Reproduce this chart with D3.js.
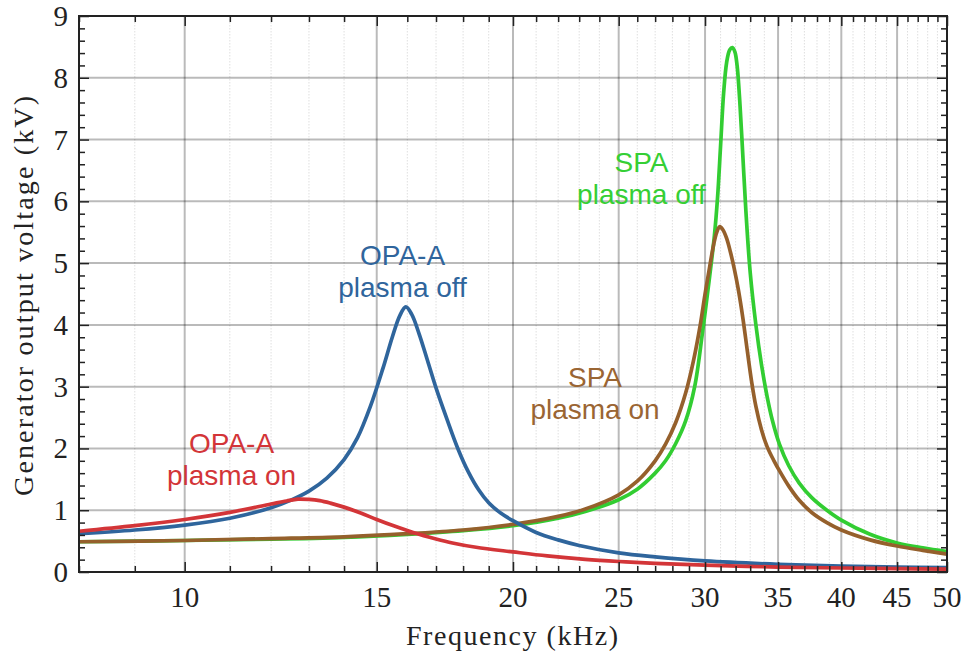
<!DOCTYPE html>
<html>
<head>
<meta charset="utf-8">
<script src="https://cdn.jsdelivr.net/npm/d3@7"></script>
<style>
body { margin: 0; background: #fff; }
svg text { font-family: "Liberation Serif", "Times New Roman", serif; }
svg text.lbl { font-family: "Liberation Sans", Arial, sans-serif; }
</style>
</head>
<body>
<div id="chart"></div>
<script>

// OPA-A, plasma off (blue)
var opaOffFreq = [8, 9, 10, 11, 12, 12.5, 13, 13.5, 14, 14.4, 14.8, 15.2, 15.5, 15.75, 15.95, 16.15, 16.4, 16.7, 17, 17.4, 17.8, 18.2, 18.6, 19, 19.5, 20, 21, 22, 23, 25, 27, 30, 35, 40, 45, 50];
var opaOffKV   = [0.62, 0.68, 0.76, 0.87, 1.04, 1.16, 1.31, 1.52, 1.82, 2.17, 2.68, 3.3, 3.8, 4.15, 4.29, 4.17, 3.86, 3.42, 2.98, 2.47, 2.0, 1.62, 1.33, 1.12, 0.95, 0.83, 0.64, 0.52, 0.43, 0.31, 0.245, 0.18, 0.125, 0.095, 0.08, 0.07];

// OPA-A, plasma on (red)
var opaOnFreq = [8, 9, 10, 11, 12, 12.4, 12.7, 13, 13.3, 13.6, 14, 14.5, 15, 15.5, 16.2, 17, 17.6, 18.5, 20, 21.5, 23.3, 25, 27, 30, 35, 40, 45, 50];
var opaOnKV   = [0.66, 0.75, 0.85, 0.965, 1.1, 1.15, 1.18, 1.175, 1.155, 1.115, 1.05, 0.955, 0.85, 0.755, 0.64, 0.535, 0.47, 0.40, 0.325, 0.26, 0.205, 0.17, 0.14, 0.11, 0.08, 0.065, 0.055, 0.045];

// SPA, plasma off (green)
var spaOffFreq = [8, 10, 12, 14, 16, 18, 20, 22, 23.3, 25, 26, 27, 27.6, 28.2, 28.8, 29.35, 29.85, 30.3, 30.6, 30.8, 31, 31.2, 31.4, 31.6, 31.78, 31.95, 32.1, 32.3, 32.5, 32.7, 33, 33.4, 33.8, 34.2, 34.6, 35.1, 35.8, 36.6, 37.6, 38.8, 40, 42.5, 45, 47.5, 50];
var spaOffKV   = [0.49, 0.51, 0.53, 0.56, 0.61, 0.67, 0.75, 0.87, 0.98, 1.17, 1.34, 1.6, 1.8, 2.08, 2.45, 3.0, 3.9, 4.8, 5.45, 6.05, 6.9, 7.75, 8.25, 8.45, 8.49, 8.42, 8.2, 7.55, 6.7, 5.85, 4.85, 4.0, 3.35, 2.84, 2.44, 2.07, 1.72, 1.44, 1.2, 1.0, 0.84, 0.61, 0.47, 0.39, 0.33];

// SPA, plasma on (brown)
var spaOnFreq = [8, 10, 12, 14, 16, 18, 20, 22, 23.3, 25, 26, 27, 27.6, 28.2, 28.8, 29.3, 29.7, 30, 30.3, 30.55, 30.75, 30.95, 31.15, 31.4, 31.65, 31.9, 32.2, 32.5, 32.8, 33.1, 33.4, 33.8, 34.2, 34.7, 35.1, 35.8, 36.6, 37.6, 38.8, 40, 42.5, 45, 47.5, 50];
var spaOnKV   = [0.49, 0.51, 0.54, 0.57, 0.62, 0.68, 0.77, 0.9, 1.02, 1.25, 1.47, 1.8, 2.07, 2.42, 2.9, 3.45, 4.0, 4.5, 4.95, 5.3, 5.5, 5.59, 5.54, 5.4, 5.18, 4.92, 4.55, 4.1, 3.58, 3.08, 2.68, 2.3, 2.03, 1.8, 1.64, 1.39, 1.16, 0.96, 0.8, 0.68, 0.52, 0.42, 0.35, 0.29];

var xTicks = [10, 15, 20, 25, 30, 35, 40, 45, 50];
var xTickLabels = ["10", "15", "20", "25", "30", "35", "40", "45", "50"];
var yTicks = [0, 1, 2, 3, 4, 5, 6, 7, 8, 9];

var series = [
  {name: "SPA off", freq: spaOffFreq, kv: spaOffKV, color: "#32cd32"},
  {name: "SPA on", freq: spaOnFreq, kv: spaOnKV, color: "#95602c"},
  {name: "OPA off", freq: opaOffFreq, kv: opaOffKV, color: "#2f659c"},
  {name: "OPA on", freq: opaOnFreq, kv: opaOnKV, color: "#d33538"}
];

var labels = [
  {lines: ["OPA-A", "plasma on"], f: 11.04, v: 1.93, color: "#d33538"},
  {lines: ["OPA-A", "plasma off"], f: 15.84, v: 4.97, color: "#2f659c"},
  {lines: ["SPA", "plasma on"], f: 23.78, v: 3.0, color: "#9a6533"},
  {lines: ["SPA", "plasma off"], f: 26.23, v: 6.48, color: "#35cf35"}
];

var margin = {top: 16, right: 19, bottom: 82, left: 79};
var width = 966 - margin.left - margin.right;
var height = 654 - margin.top - margin.bottom;

var svg = d3.select("#chart")
  .append("svg")
  .attr("width", 966)
  .attr("height", 654)
  .append("g")
  .attr("transform", "translate(" + margin.left + "," + margin.top + ")");

var x = d3.scaleLog().domain([8, 50]).range([0, width]);
var y = d3.scaleLinear().domain([0, 9]).range([height, 0]);

var minorX = d3.range(8, 51).filter(function (d) { return xTicks.indexOf(d) < 0; });
var minorY = d3.range(0, 45).map(function (i) { return i * 0.2; }).filter(function (d) { return Math.abs(d - Math.round(d)) > 0.01; });

// minor dotted grid (vertical only)
svg.append("g").selectAll("line")
  .data(minorX)
  .enter().append("line")
  .attr("x1", function (d) { return x(d); })
  .attr("x2", function (d) { return x(d); })
  .attr("y1", 0).attr("y2", height)
  .attr("stroke", "#000").attr("stroke-opacity", 0.13)
  .attr("stroke-width", 1).attr("stroke-dasharray", "1.5,1.5");

// major grid
svg.append("g").selectAll("line")
  .data(xTicks)
  .enter().append("line")
  .attr("x1", function (d) { return x(d); })
  .attr("x2", function (d) { return x(d); })
  .attr("y1", 0).attr("y2", height)
  .attr("stroke", "#000").attr("stroke-opacity", 0.27).attr("stroke-width", 2);

svg.append("g").selectAll("line")
  .data(yTicks.slice(1, 9))
  .enter().append("line")
  .attr("x1", 0).attr("x2", width)
  .attr("y1", function (d) { return y(d); })
  .attr("y2", function (d) { return y(d); })
  .attr("stroke", "#000").attr("stroke-opacity", 0.27).attr("stroke-width", 2);

// curves
var line = d3.line()
  .x(function (d) { return x(d[0]); })
  .y(function (d) { return y(d[1]); })
  .curve(d3.curveCatmullRom.alpha(0.5));

series.forEach(function (s) {
  var pts = s.freq.map(function (f, i) { return [f, s.kv[i]]; });
  svg.append("path")
    .datum(pts)
    .attr("fill", "none")
    .attr("stroke", s.color)
    .attr("stroke-width", 3.7)
    .attr("stroke-linejoin", "round")
    .attr("d", line);
});

// axes: ticks on all four sides, pointing inward
function tickAxis(axis, vals, len) {
  return axis.tickValues(vals).tickSize(-len).tickFormat("");
}
var ax = svg.append("g").attr("class", "axes");
ax.append("g").attr("transform", "translate(0," + height + ")").call(tickAxis(d3.axisBottom(x), xTicks, 10));
ax.append("g").attr("transform", "translate(0," + height + ")").call(tickAxis(d3.axisBottom(x), minorX, 6));
ax.append("g").call(tickAxis(d3.axisTop(x), xTicks, 10));
ax.append("g").call(tickAxis(d3.axisTop(x), minorX, 6));
ax.append("g").call(tickAxis(d3.axisLeft(y), yTicks, 10));
ax.append("g").call(tickAxis(d3.axisLeft(y), minorY, 6));
ax.append("g").attr("transform", "translate(" + width + ",0)").call(tickAxis(d3.axisRight(y), yTicks, 10));
ax.append("g").attr("transform", "translate(" + width + ",0)").call(tickAxis(d3.axisRight(y), minorY, 6));
ax.selectAll(".domain").remove();
ax.selectAll(".tick line").attr("stroke", "#222").attr("stroke-width", 1.5);

svg.append("rect")
  .attr("x", 0).attr("y", 0)
  .attr("width", width).attr("height", height)
  .attr("fill", "none").attr("stroke", "#222").attr("stroke-width", 2);

// tick labels
svg.append("g").selectAll("text")
  .data(xTicks)
  .enter().append("text")
  .attr("x", function (d) { return x(d); })
  .attr("y", height + 35)
  .attr("text-anchor", "middle")
  .style("font-size", "29px")
  .style("fill", "#222")
  .text(function (d, i) { return xTickLabels[i]; });

svg.append("g").selectAll("text")
  .data(yTicks)
  .enter().append("text")
  .attr("x", -11)
  .attr("y", function (d) { return y(d) + 10; })
  .attr("text-anchor", "end")
  .style("font-size", "29px")
  .style("fill", "#222")
  .text(function (d) { return d; });

// axis titles
svg.append("text")
  .attr("x", 512 - margin.left)
  .attr("y", 645 - margin.top)
  .attr("text-anchor", "middle")
  .attr("textLength", 212)
  .attr("lengthAdjust", "spacing")
  .style("font-size", "28px")
  .style("fill", "#222")
  .text("Frequency (kHz)");

svg.append("text")
  .attr("transform", "translate(" + (33 - margin.left) + "," + (296 - margin.top) + ")rotate(-90)")
  .attr("text-anchor", "middle")
  .attr("textLength", 400)
  .attr("lengthAdjust", "spacing")
  .style("font-size", "28px")
  .style("fill", "#222")
  .text("Generator output voltage (kV)");

// curve labels
labels.forEach(function (l) {
  var t = svg.append("text")
    .attr("class", "lbl")
    .attr("text-anchor", "middle")
    .style("font-size", "28px")
    .style("fill", l.color);
  l.lines.forEach(function (s, i) {
    t.append("tspan")
      .attr("x", x(l.f))
      .attr("y", y(l.v) + i * 32)
      .text(s);
  });
});

</script>
</body>
</html>
